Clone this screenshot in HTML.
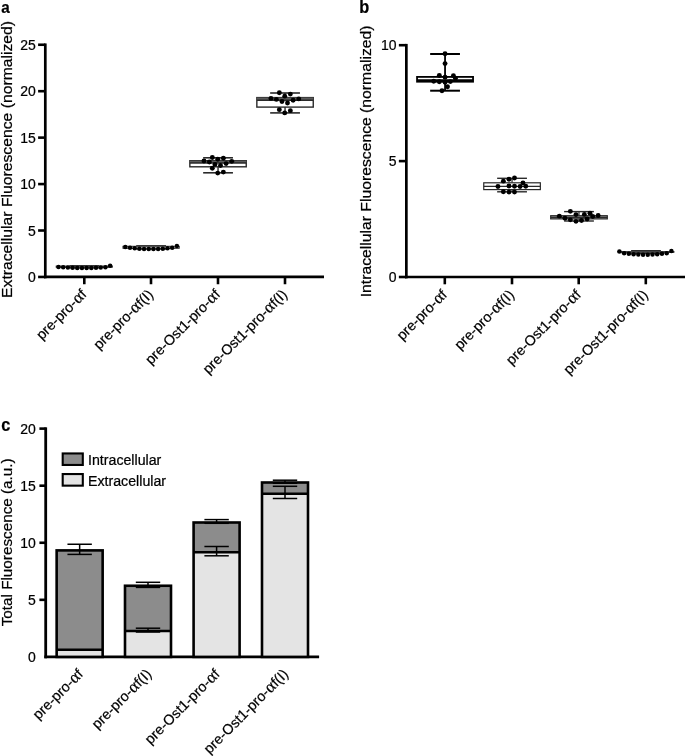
<!DOCTYPE html>
<html><head><meta charset="utf-8"><title>Figure</title>
<style>html,body{margin:0;padding:0;background:#fff}svg{display:block}text{font-family:"Liberation Sans", Arial, Helvetica, sans-serif;fill:#000;stroke:#000;stroke-width:0.22px}</style>
</head><body>
<svg width="685" height="756" viewBox="0 0 685 756">
<rect width="685" height="756" fill="#fff"/>
<text font-size="15.2" text-anchor="start" font-weight="bold" transform="translate(1.30 12.80) scale(1 1.07)">a</text>
<line x1="45.30" y1="43.45" x2="45.30" y2="278.30" stroke="#000" stroke-width="2.7" stroke-linecap="butt"/>
<line x1="43.95" y1="276.95" x2="324.00" y2="276.95" stroke="#000" stroke-width="2.7" stroke-linecap="butt"/>
<line x1="38.10" y1="276.95" x2="45.30" y2="276.95" stroke="#000" stroke-width="2.6" stroke-linecap="butt"/>
<text font-size="14.0" text-anchor="end" transform="translate(35.80 282.05) scale(1 1.07)">0</text>
<line x1="38.10" y1="230.51" x2="45.30" y2="230.51" stroke="#000" stroke-width="2.6" stroke-linecap="butt"/>
<text font-size="14.0" text-anchor="end" transform="translate(35.80 235.61) scale(1 1.07)">5</text>
<line x1="38.10" y1="184.07" x2="45.30" y2="184.07" stroke="#000" stroke-width="2.6" stroke-linecap="butt"/>
<text font-size="14.0" text-anchor="end" transform="translate(35.80 189.17) scale(1 1.07)">10</text>
<line x1="38.10" y1="137.63" x2="45.30" y2="137.63" stroke="#000" stroke-width="2.6" stroke-linecap="butt"/>
<text font-size="14.0" text-anchor="end" transform="translate(35.80 142.73) scale(1 1.07)">15</text>
<line x1="38.10" y1="91.19" x2="45.30" y2="91.19" stroke="#000" stroke-width="2.6" stroke-linecap="butt"/>
<text font-size="14.0" text-anchor="end" transform="translate(35.80 96.29) scale(1 1.07)">20</text>
<line x1="38.10" y1="44.75" x2="45.30" y2="44.75" stroke="#000" stroke-width="2.6" stroke-linecap="butt"/>
<text font-size="14.0" text-anchor="end" transform="translate(35.80 49.85) scale(1 1.07)">25</text>
<line x1="84.30" y1="276.95" x2="84.30" y2="284.25" stroke="#000" stroke-width="2.6" stroke-linecap="butt"/>
<line x1="151.00" y1="276.95" x2="151.00" y2="284.25" stroke="#000" stroke-width="2.6" stroke-linecap="butt"/>
<line x1="218.00" y1="276.95" x2="218.00" y2="284.25" stroke="#000" stroke-width="2.6" stroke-linecap="butt"/>
<line x1="285.00" y1="276.95" x2="285.00" y2="284.25" stroke="#000" stroke-width="2.6" stroke-linecap="butt"/>
<text font-size="14.7" text-anchor="middle" transform="translate(12.30 159.45) scale(1 1.07) rotate(-90)">Extracellular Fluorescence (normalized)</text>
<text font-size="14.3" text-anchor="end" transform="translate(87.30 295.30) rotate(-45) scale(1 1.0)">pre-pro-<tspan font-family="'Liberation Serif', serif" font-size="17" dx="0.3">α</tspan>f</text>
<text font-size="14.3" text-anchor="end" transform="translate(154.00 295.30) rotate(-45) scale(1 1.0)">pre-pro-<tspan font-family="'Liberation Serif', serif" font-size="17" dx="0.3">α</tspan>f(I)</text>
<text font-size="14.3" text-anchor="end" transform="translate(221.00 295.30) rotate(-45) scale(1 1.0)">pre-Ost1-pro-<tspan font-family="'Liberation Serif', serif" font-size="17" dx="0.3">α</tspan>f</text>
<text font-size="14.3" text-anchor="end" transform="translate(288.00 295.30) rotate(-45) scale(1 1.0)">pre-Ost1-pro-<tspan font-family="'Liberation Serif', serif" font-size="17" dx="0.3">α</tspan>f(I)</text>
<line x1="84.30" y1="265.60" x2="84.30" y2="266.00" stroke="#2a2a2a" stroke-width="0.8" stroke-linecap="butt"/>
<line x1="84.30" y1="267.30" x2="84.30" y2="268.00" stroke="#2a2a2a" stroke-width="0.8" stroke-linecap="butt"/>
<line x1="69.40" y1="265.60" x2="99.20" y2="265.60" stroke="#2a2a2a" stroke-width="1.0" stroke-linecap="butt"/>
<line x1="69.40" y1="268.00" x2="99.20" y2="268.00" stroke="#2a2a2a" stroke-width="1.0" stroke-linecap="butt"/>
<rect x="56.10" y="266.00" width="56.40" height="1.30" fill="#fff" stroke="#2a2a2a" stroke-width="0.8"/>
<line x1="56.10" y1="266.60" x2="112.50" y2="266.60" stroke="#2a2a2a" stroke-width="0.8" stroke-linecap="butt"/>
<circle cx="58.50" cy="266.90" r="2.25"/>
<circle cx="63.19" cy="267.30" r="2.25"/>
<circle cx="67.88" cy="267.61" r="2.25"/>
<circle cx="72.57" cy="267.85" r="2.25"/>
<circle cx="77.26" cy="268.01" r="2.25"/>
<circle cx="81.95" cy="268.09" r="2.25"/>
<circle cx="86.65" cy="268.09" r="2.25"/>
<circle cx="91.34" cy="268.01" r="2.25"/>
<circle cx="96.03" cy="267.85" r="2.25"/>
<circle cx="100.72" cy="267.61" r="2.25"/>
<circle cx="105.41" cy="267.30" r="2.25"/>
<circle cx="110.10" cy="265.70" r="2.25"/>
<line x1="151.10" y1="245.60" x2="151.10" y2="246.20" stroke="#2a2a2a" stroke-width="0.8" stroke-linecap="butt"/>
<line x1="151.10" y1="248.40" x2="151.10" y2="249.20" stroke="#2a2a2a" stroke-width="0.8" stroke-linecap="butt"/>
<line x1="136.20" y1="245.60" x2="166.00" y2="245.60" stroke="#2a2a2a" stroke-width="1.0" stroke-linecap="butt"/>
<line x1="136.20" y1="249.20" x2="166.00" y2="249.20" stroke="#2a2a2a" stroke-width="1.0" stroke-linecap="butt"/>
<rect x="122.90" y="246.20" width="56.40" height="2.20" fill="#fff" stroke="#2a2a2a" stroke-width="0.8"/>
<line x1="122.90" y1="246.90" x2="179.30" y2="246.90" stroke="#2a2a2a" stroke-width="0.8" stroke-linecap="butt"/>
<circle cx="125.30" cy="246.90" r="2.25"/>
<circle cx="129.99" cy="247.63" r="2.25"/>
<circle cx="134.68" cy="248.21" r="2.25"/>
<circle cx="139.37" cy="248.65" r="2.25"/>
<circle cx="144.06" cy="248.94" r="2.25"/>
<circle cx="148.75" cy="249.08" r="2.25"/>
<circle cx="153.45" cy="249.08" r="2.25"/>
<circle cx="158.14" cy="248.94" r="2.25"/>
<circle cx="162.83" cy="248.65" r="2.25"/>
<circle cx="167.52" cy="248.21" r="2.25"/>
<circle cx="172.21" cy="247.63" r="2.25"/>
<circle cx="176.90" cy="245.90" r="2.25"/>
<line x1="218.05" y1="157.80" x2="218.05" y2="160.70" stroke="#2a2a2a" stroke-width="1.4" stroke-linecap="butt"/>
<line x1="218.05" y1="166.80" x2="218.05" y2="172.80" stroke="#2a2a2a" stroke-width="1.4" stroke-linecap="butt"/>
<line x1="203.15" y1="157.80" x2="232.95" y2="157.80" stroke="#2a2a2a" stroke-width="1.5999999999999999" stroke-linecap="butt"/>
<line x1="203.15" y1="172.80" x2="232.95" y2="172.80" stroke="#2a2a2a" stroke-width="1.5999999999999999" stroke-linecap="butt"/>
<rect x="189.85" y="160.70" width="56.40" height="6.10" fill="#fff" stroke="#2a2a2a" stroke-width="1.4"/>
<rect x="189.85" y="160.70" width="56.40" height="2.30" fill="#5a5a5a"/>
<line x1="189.85" y1="163.00" x2="246.25" y2="163.00" stroke="#2a2a2a" stroke-width="1.4" stroke-linecap="butt"/>
<line x1="285.05" y1="93.00" x2="285.05" y2="97.60" stroke="#2a2a2a" stroke-width="1.4" stroke-linecap="butt"/>
<line x1="285.05" y1="107.10" x2="285.05" y2="112.90" stroke="#2a2a2a" stroke-width="1.4" stroke-linecap="butt"/>
<line x1="270.15" y1="93.00" x2="299.95" y2="93.00" stroke="#2a2a2a" stroke-width="1.5999999999999999" stroke-linecap="butt"/>
<line x1="270.15" y1="112.90" x2="299.95" y2="112.90" stroke="#2a2a2a" stroke-width="1.5999999999999999" stroke-linecap="butt"/>
<rect x="256.85" y="97.60" width="56.40" height="9.50" fill="#fff" stroke="#2a2a2a" stroke-width="1.4"/>
<rect x="256.85" y="97.60" width="56.40" height="2.70" fill="#5a5a5a"/>
<line x1="256.85" y1="100.30" x2="313.25" y2="100.30" stroke="#2a2a2a" stroke-width="1.4" stroke-linecap="butt"/>
<circle cx="279.33" cy="92.77" r="2.45"/>
<circle cx="290.36" cy="94.10" r="2.45"/>
<circle cx="284.74" cy="96.15" r="2.45"/>
<circle cx="270.95" cy="98.39" r="2.45"/>
<circle cx="276.36" cy="99.42" r="2.45"/>
<circle cx="281.98" cy="101.46" r="2.45"/>
<circle cx="287.50" cy="102.99" r="2.45"/>
<circle cx="293.12" cy="100.23" r="2.45"/>
<circle cx="298.74" cy="98.90" r="2.45"/>
<circle cx="279.33" cy="109.63" r="2.45"/>
<circle cx="284.74" cy="112.90" r="2.45"/>
<circle cx="290.36" cy="110.66" r="2.45"/>
<circle cx="212.33" cy="157.57" r="2.45"/>
<circle cx="217.74" cy="159.31" r="2.45"/>
<circle cx="223.36" cy="158.28" r="2.45"/>
<circle cx="203.95" cy="161.04" r="2.45"/>
<circle cx="209.36" cy="162.07" r="2.45"/>
<circle cx="231.74" cy="161.35" r="2.45"/>
<circle cx="226.12" cy="163.60" r="2.45"/>
<circle cx="214.98" cy="164.42" r="2.45"/>
<circle cx="220.50" cy="165.44" r="2.45"/>
<circle cx="212.33" cy="168.30" r="2.45"/>
<circle cx="217.74" cy="173.10" r="2.45"/>
<circle cx="223.36" cy="172.08" r="2.45"/>
<text font-size="16.3" text-anchor="start" font-weight="bold" transform="translate(359.30 12.80) scale(1 1.07)">b</text>
<line x1="406.35" y1="43.90" x2="406.35" y2="278.35" stroke="#000" stroke-width="2.7" stroke-linecap="butt"/>
<line x1="405.00" y1="277.00" x2="685.00" y2="277.00" stroke="#000" stroke-width="2.7" stroke-linecap="butt"/>
<line x1="398.85" y1="277.00" x2="406.35" y2="277.00" stroke="#000" stroke-width="2.6" stroke-linecap="butt"/>
<text font-size="14.0" text-anchor="end" transform="translate(396.55 282.10) scale(1 1.07)">0</text>
<line x1="398.85" y1="161.10" x2="406.35" y2="161.10" stroke="#000" stroke-width="2.6" stroke-linecap="butt"/>
<text font-size="14.0" text-anchor="end" transform="translate(396.55 166.20) scale(1 1.07)">5</text>
<line x1="398.85" y1="45.20" x2="406.35" y2="45.20" stroke="#000" stroke-width="2.6" stroke-linecap="butt"/>
<text font-size="14.0" text-anchor="end" transform="translate(396.55 50.30) scale(1 1.07)">10</text>
<line x1="444.80" y1="277.00" x2="444.80" y2="284.30" stroke="#000" stroke-width="2.6" stroke-linecap="butt"/>
<line x1="512.00" y1="277.00" x2="512.00" y2="284.30" stroke="#000" stroke-width="2.6" stroke-linecap="butt"/>
<line x1="578.70" y1="277.00" x2="578.70" y2="284.30" stroke="#000" stroke-width="2.6" stroke-linecap="butt"/>
<line x1="645.80" y1="277.00" x2="645.80" y2="284.30" stroke="#000" stroke-width="2.6" stroke-linecap="butt"/>
<text font-size="14.7" text-anchor="middle" transform="translate(371.00 161.40) scale(1 1.07) rotate(-90)">Intracellular Fluorescence (normalized)</text>
<text font-size="14.3" text-anchor="end" transform="translate(447.80 295.70) rotate(-45) scale(1 1.0)">pre-pro-<tspan font-family="'Liberation Serif', serif" font-size="17" dx="0.3">α</tspan>f</text>
<text font-size="14.3" text-anchor="end" transform="translate(515.00 295.70) rotate(-45) scale(1 1.0)">pre-pro-<tspan font-family="'Liberation Serif', serif" font-size="17" dx="0.3">α</tspan>f(I)</text>
<text font-size="14.3" text-anchor="end" transform="translate(581.70 295.70) rotate(-45) scale(1 1.0)">pre-Ost1-pro-<tspan font-family="'Liberation Serif', serif" font-size="17" dx="0.3">α</tspan>f</text>
<text font-size="14.3" text-anchor="end" transform="translate(648.80 295.70) rotate(-45) scale(1 1.0)">pre-Ost1-pro-<tspan font-family="'Liberation Serif', serif" font-size="17" dx="0.3">α</tspan>f(I)</text>
<line x1="445.05" y1="54.00" x2="445.05" y2="76.90" stroke="#000" stroke-width="1.8" stroke-linecap="butt"/>
<line x1="445.05" y1="81.70" x2="445.05" y2="90.70" stroke="#000" stroke-width="1.8" stroke-linecap="butt"/>
<line x1="430.15" y1="54.00" x2="459.95" y2="54.00" stroke="#000" stroke-width="2.0" stroke-linecap="butt"/>
<line x1="430.15" y1="90.70" x2="459.95" y2="90.70" stroke="#000" stroke-width="2.0" stroke-linecap="butt"/>
<rect x="417.05" y="76.90" width="56.00" height="4.80" fill="#fff" stroke="#000" stroke-width="1.8"/>
<line x1="417.05" y1="80.20" x2="473.05" y2="80.20" stroke="#000" stroke-width="1.8" stroke-linecap="butt"/>
<line x1="417.00" y1="80.90" x2="473.00" y2="80.90" stroke="#000" stroke-width="1.6" stroke-linecap="butt"/>
<circle cx="445.05" cy="53.69" r="2.45"/>
<circle cx="445.05" cy="63.60" r="2.45"/>
<circle cx="439.33" cy="75.45" r="2.45"/>
<circle cx="445.05" cy="77.19" r="2.45"/>
<circle cx="453.43" cy="75.66" r="2.45"/>
<circle cx="433.71" cy="81.28" r="2.45"/>
<circle cx="439.33" cy="81.79" r="2.45"/>
<circle cx="445.05" cy="82.30" r="2.45"/>
<circle cx="450.36" cy="81.58" r="2.45"/>
<circle cx="455.47" cy="78.21" r="2.45"/>
<circle cx="447.50" cy="86.69" r="2.45"/>
<circle cx="441.98" cy="90.68" r="2.45"/>
<line x1="512.05" y1="178.30" x2="512.05" y2="182.80" stroke="#2a2a2a" stroke-width="1.2" stroke-linecap="butt"/>
<line x1="512.05" y1="189.60" x2="512.05" y2="191.80" stroke="#2a2a2a" stroke-width="1.2" stroke-linecap="butt"/>
<line x1="497.15" y1="178.30" x2="526.95" y2="178.30" stroke="#2a2a2a" stroke-width="1.4" stroke-linecap="butt"/>
<line x1="497.15" y1="191.80" x2="526.95" y2="191.80" stroke="#2a2a2a" stroke-width="1.4" stroke-linecap="butt"/>
<rect x="483.75" y="182.80" width="56.60" height="6.80" fill="#fff" stroke="#2a2a2a" stroke-width="1.2"/>
<line x1="483.75" y1="186.30" x2="540.35" y2="186.30" stroke="#2a2a2a" stroke-width="1.2" stroke-linecap="butt"/>
<circle cx="514.50" cy="177.98" r="2.45"/>
<circle cx="508.98" cy="179.31" r="2.45"/>
<circle cx="503.36" cy="181.15" r="2.45"/>
<circle cx="522.98" cy="182.88" r="2.45"/>
<circle cx="497.95" cy="186.46" r="2.45"/>
<circle cx="508.98" cy="185.95" r="2.45"/>
<circle cx="514.50" cy="186.25" r="2.45"/>
<circle cx="520.12" cy="186.46" r="2.45"/>
<circle cx="525.74" cy="186.25" r="2.45"/>
<circle cx="503.36" cy="191.77" r="2.45"/>
<circle cx="508.98" cy="192.08" r="2.45"/>
<circle cx="514.50" cy="192.08" r="2.45"/>
<line x1="579.00" y1="211.60" x2="579.00" y2="215.70" stroke="#2a2a2a" stroke-width="1.2" stroke-linecap="butt"/>
<line x1="579.00" y1="218.90" x2="579.00" y2="221.00" stroke="#2a2a2a" stroke-width="1.2" stroke-linecap="butt"/>
<line x1="564.10" y1="211.60" x2="593.90" y2="211.60" stroke="#2a2a2a" stroke-width="1.4" stroke-linecap="butt"/>
<line x1="564.10" y1="221.00" x2="593.90" y2="221.00" stroke="#2a2a2a" stroke-width="1.4" stroke-linecap="butt"/>
<rect x="550.70" y="215.70" width="56.60" height="3.20" fill="#999" stroke="#2a2a2a" stroke-width="1.2"/>
<line x1="550.70" y1="217.30" x2="607.30" y2="217.30" stroke="#2a2a2a" stroke-width="1.2" stroke-linecap="butt"/>
<circle cx="570.36" cy="211.35" r="2.45"/>
<circle cx="559.33" cy="216.15" r="2.45"/>
<circle cx="564.95" cy="218.30" r="2.45"/>
<circle cx="570.36" cy="219.83" r="2.45"/>
<circle cx="575.98" cy="221.36" r="2.45"/>
<circle cx="581.50" cy="220.55" r="2.45"/>
<circle cx="575.98" cy="214.62" r="2.45"/>
<circle cx="584.36" cy="214.42" r="2.45"/>
<circle cx="589.98" cy="213.19" r="2.45"/>
<circle cx="587.12" cy="219.01" r="2.45"/>
<circle cx="592.74" cy="216.46" r="2.45"/>
<circle cx="598.16" cy="215.44" r="2.45"/>
<line x1="646.00" y1="250.50" x2="646.00" y2="251.40" stroke="#2a2a2a" stroke-width="0.8" stroke-linecap="butt"/>
<line x1="646.00" y1="252.60" x2="646.00" y2="253.50" stroke="#2a2a2a" stroke-width="0.8" stroke-linecap="butt"/>
<line x1="631.10" y1="250.50" x2="660.90" y2="250.50" stroke="#2a2a2a" stroke-width="1.0" stroke-linecap="butt"/>
<line x1="631.10" y1="253.50" x2="660.90" y2="253.50" stroke="#2a2a2a" stroke-width="1.0" stroke-linecap="butt"/>
<rect x="618.00" y="251.40" width="56.00" height="1.20" fill="#fff" stroke="#2a2a2a" stroke-width="0.8"/>
<line x1="618.00" y1="252.00" x2="674.00" y2="252.00" stroke="#2a2a2a" stroke-width="0.8" stroke-linecap="butt"/>
<circle cx="619.40" cy="251.60" r="2.25"/>
<circle cx="624.13" cy="253.19" r="2.25"/>
<circle cx="628.85" cy="253.83" r="2.25"/>
<circle cx="633.58" cy="254.30" r="2.25"/>
<circle cx="638.31" cy="254.62" r="2.25"/>
<circle cx="643.04" cy="254.78" r="2.25"/>
<circle cx="647.76" cy="254.78" r="2.25"/>
<circle cx="652.49" cy="254.62" r="2.25"/>
<circle cx="657.22" cy="254.30" r="2.25"/>
<circle cx="661.95" cy="253.83" r="2.25"/>
<circle cx="666.67" cy="253.19" r="2.25"/>
<circle cx="671.40" cy="250.90" r="2.25"/>
<text font-size="16.3" text-anchor="start" font-weight="bold" transform="translate(1.30 430.70) scale(1 1.07)">c</text>
<line x1="45.70" y1="427.32" x2="45.70" y2="658.30" stroke="#000" stroke-width="2.8" stroke-linecap="butt"/>
<line x1="44.30" y1="656.90" x2="319.10" y2="656.90" stroke="#000" stroke-width="2.8" stroke-linecap="butt"/>
<text font-size="14.0" text-anchor="end" transform="translate(35.80 662.00) scale(1 1.07)">0</text>
<line x1="39.40" y1="599.83" x2="45.70" y2="599.83" stroke="#000" stroke-width="2.6" stroke-linecap="butt"/>
<text font-size="14.0" text-anchor="end" transform="translate(35.80 604.93) scale(1 1.07)">5</text>
<line x1="39.40" y1="542.76" x2="45.70" y2="542.76" stroke="#000" stroke-width="2.6" stroke-linecap="butt"/>
<text font-size="14.0" text-anchor="end" transform="translate(35.80 547.86) scale(1 1.07)">10</text>
<line x1="39.40" y1="485.69" x2="45.70" y2="485.69" stroke="#000" stroke-width="2.6" stroke-linecap="butt"/>
<text font-size="14.0" text-anchor="end" transform="translate(35.80 490.79) scale(1 1.07)">15</text>
<line x1="39.40" y1="428.62" x2="45.70" y2="428.62" stroke="#000" stroke-width="2.6" stroke-linecap="butt"/>
<text font-size="14.0" text-anchor="end" transform="translate(35.80 433.72) scale(1 1.07)">20</text>
<text font-size="14.27" text-anchor="middle" transform="translate(12.30 542.35) scale(1 1.07) rotate(-90)">Total Fluorescence (a.u.)</text>
<text font-size="14.3" text-anchor="end" transform="translate(83.90 675.00) rotate(-45) scale(1 1.0)">pre-pro-<tspan font-family="'Liberation Serif', serif" font-size="17" dx="0.3">α</tspan>f</text>
<text font-size="14.3" text-anchor="end" transform="translate(152.40 675.00) rotate(-45) scale(1 1.0)">pre-pro-<tspan font-family="'Liberation Serif', serif" font-size="17" dx="0.3">α</tspan>f(I)</text>
<text font-size="14.3" text-anchor="end" transform="translate(220.60 675.00) rotate(-45) scale(1 1.0)">pre-Ost1-pro-<tspan font-family="'Liberation Serif', serif" font-size="17" dx="0.3">α</tspan>f</text>
<text font-size="14.3" text-anchor="end" transform="translate(289.10 675.00) rotate(-45) scale(1 1.0)">pre-Ost1-pro-<tspan font-family="'Liberation Serif', serif" font-size="17" dx="0.3">α</tspan>f(I)</text>
<rect x="56.65" y="649.70" width="46.00" height="7.20" fill="#e4e4e4" stroke="none"/>
<rect x="56.65" y="550.40" width="46.00" height="99.30" fill="#8c8c8c" stroke="none"/>
<rect x="56.65" y="550.40" width="46.00" height="106.50" fill="none" stroke="#000" stroke-width="2.6"/>
<line x1="56.65" y1="649.70" x2="102.65" y2="649.70" stroke="#000" stroke-width="2.5" stroke-linecap="butt"/>
<line x1="79.65" y1="544.25" x2="79.65" y2="554.40" stroke="#000" stroke-width="1.5" stroke-linecap="butt"/>
<line x1="67.45" y1="544.25" x2="91.85" y2="544.25" stroke="#000" stroke-width="1.5" stroke-linecap="butt"/>
<line x1="67.45" y1="554.40" x2="91.85" y2="554.40" stroke="#000" stroke-width="1.5" stroke-linecap="butt"/>
<rect x="125.00" y="631.00" width="46.00" height="25.90" fill="#e4e4e4" stroke="none"/>
<rect x="125.00" y="585.75" width="46.00" height="45.25" fill="#8c8c8c" stroke="none"/>
<rect x="125.00" y="585.75" width="46.00" height="71.15" fill="none" stroke="#000" stroke-width="2.6"/>
<line x1="125.00" y1="631.00" x2="171.00" y2="631.00" stroke="#000" stroke-width="2.5" stroke-linecap="butt"/>
<line x1="148.00" y1="582.30" x2="148.00" y2="587.40" stroke="#000" stroke-width="1.5" stroke-linecap="butt"/>
<line x1="135.80" y1="582.30" x2="160.20" y2="582.30" stroke="#000" stroke-width="1.5" stroke-linecap="butt"/>
<line x1="135.80" y1="587.40" x2="160.20" y2="587.40" stroke="#000" stroke-width="1.5" stroke-linecap="butt"/>
<line x1="148.00" y1="628.20" x2="148.00" y2="632.00" stroke="#000" stroke-width="1.5" stroke-linecap="butt"/>
<line x1="135.80" y1="628.20" x2="160.20" y2="628.20" stroke="#000" stroke-width="1.5" stroke-linecap="butt"/>
<line x1="135.80" y1="632.00" x2="160.20" y2="632.00" stroke="#000" stroke-width="1.5" stroke-linecap="butt"/>
<rect x="193.60" y="552.30" width="46.00" height="104.60" fill="#e4e4e4" stroke="none"/>
<rect x="193.60" y="522.50" width="46.00" height="29.80" fill="#8c8c8c" stroke="none"/>
<rect x="193.60" y="522.50" width="46.00" height="134.40" fill="none" stroke="#000" stroke-width="2.6"/>
<line x1="193.60" y1="552.30" x2="239.60" y2="552.30" stroke="#000" stroke-width="2.5" stroke-linecap="butt"/>
<line x1="216.60" y1="519.60" x2="216.60" y2="523.30" stroke="#000" stroke-width="1.5" stroke-linecap="butt"/>
<line x1="204.40" y1="519.60" x2="228.80" y2="519.60" stroke="#000" stroke-width="1.5" stroke-linecap="butt"/>
<line x1="204.40" y1="523.30" x2="228.80" y2="523.30" stroke="#000" stroke-width="1.5" stroke-linecap="butt"/>
<line x1="216.60" y1="546.50" x2="216.60" y2="555.80" stroke="#000" stroke-width="1.5" stroke-linecap="butt"/>
<line x1="204.40" y1="546.50" x2="228.80" y2="546.50" stroke="#000" stroke-width="1.5" stroke-linecap="butt"/>
<line x1="204.40" y1="555.80" x2="228.80" y2="555.80" stroke="#000" stroke-width="1.5" stroke-linecap="butt"/>
<rect x="262.00" y="493.70" width="46.00" height="163.20" fill="#e4e4e4" stroke="none"/>
<rect x="262.00" y="482.50" width="46.00" height="11.20" fill="#8c8c8c" stroke="none"/>
<rect x="262.00" y="482.50" width="46.00" height="174.40" fill="none" stroke="#000" stroke-width="2.6"/>
<line x1="262.00" y1="493.70" x2="308.00" y2="493.70" stroke="#000" stroke-width="2.5" stroke-linecap="butt"/>
<line x1="285.00" y1="480.20" x2="285.00" y2="483.20" stroke="#000" stroke-width="1.5" stroke-linecap="butt"/>
<line x1="272.80" y1="480.20" x2="297.20" y2="480.20" stroke="#000" stroke-width="1.5" stroke-linecap="butt"/>
<line x1="272.80" y1="483.20" x2="297.20" y2="483.20" stroke="#000" stroke-width="1.5" stroke-linecap="butt"/>
<line x1="285.00" y1="486.30" x2="285.00" y2="498.50" stroke="#000" stroke-width="1.5" stroke-linecap="butt"/>
<line x1="272.80" y1="486.30" x2="297.20" y2="486.30" stroke="#000" stroke-width="1.5" stroke-linecap="butt"/>
<line x1="272.80" y1="498.50" x2="297.20" y2="498.50" stroke="#000" stroke-width="1.5" stroke-linecap="butt"/>
<rect x="62.7" y="453.45" width="20.1" height="11.5" fill="#8c8c8c" stroke="#000" stroke-width="2.1"/>
<rect x="62.7" y="474.05" width="20.1" height="11.6" fill="#e4e4e4" stroke="#000" stroke-width="2.1"/>
<text font-size="14.2" text-anchor="start" transform="translate(88.00 465.00) scale(1 1.07)">Intracellular</text>
<text font-size="14.2" text-anchor="start" transform="translate(88.00 485.60) scale(1 1.07)">Extracellular</text>
</svg>
</body></html>
